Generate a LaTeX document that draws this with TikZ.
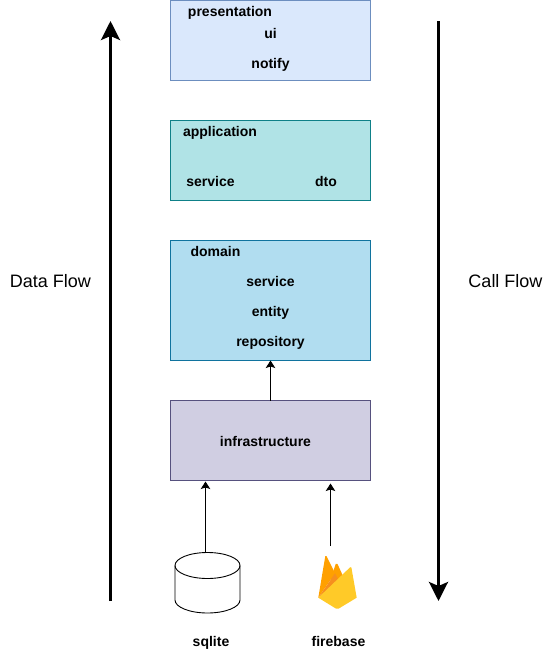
\documentclass[tikz,border=0pt]{standalone}
\usepackage{fontspec}
\setmainfont{Liberation Sans}
\usetikzlibrary{arrows.meta}

\newcommand{\boxWidth}{200pt}
\definecolor{presFill}{HTML}{DAE8FC}
\definecolor{presLine}{HTML}{6C8EBF}
\definecolor{appFill}{HTML}{B0E3E6}
\definecolor{appLine}{HTML}{0E8088}
\definecolor{domFill}{HTML}{B1DDF0}
\definecolor{domLine}{HTML}{10739E}
\definecolor{infraFill}{HTML}{D0CEE2}
\definecolor{infraLine}{HTML}{56517E}
\definecolor{fireDark}{HTML}{FFA000}
\definecolor{fireMid}{HTML}{F68F1E}
\definecolor{fireLight}{HTML}{FFCA28}

\tikzset{
  layer/.style={draw, minimum width=\boxWidth, outer sep=0pt, line width=0.9pt},
  word/.style={font=\bfseries\fontsize{14}{16}\selectfont, inner sep=0pt, anchor=base},
  flowword/.style={font=\fontsize{18}{21}\selectfont, inner sep=0pt, anchor=base},
  thinarrow/.style={-{Stealth[length=7.5pt,width=9.5pt,inset=1.5pt]}, line width=1pt},
  flowarrow/.style={-{Stealth[length=19pt,width=19pt,inset=4pt]}, line width=3pt}
}

\begin{document}
\begin{tikzpicture}[x=1pt, y=-1pt]
  \useasboundingbox (0,0) rectangle (551,651);

  % layers
  \node[layer, fill=presFill, draw=presLine, minimum height=80pt] (presentation) at (270.5,40.5) {};
  \node[layer, fill=appFill, draw=appLine, minimum height=80pt] (application) at (270.5,160.5) {};
  \node[layer, fill=domFill, draw=domLine, minimum height=120pt] (domain) at (270.5,300.5) {};
  \node[layer, fill=infraFill, draw=infraLine, minimum height=80pt] (infrastructure) at (270.5,440.5) {};

  \node[word] (presentationtitle) at (230,16) {presentation};
  \node[word] (ui) at (270.5,38) {ui};
  \node[word] (notify) at (270.5,68) {notify};

  \node[word] (applicationtitle) at (220,136) {application};
  \node[word] (appservice) at (210.5,186) {service};
  \node[word] (dto) at (326,186) {dto};

  \node[word] (domaintitle) at (215.5,256) {domain};
  \node[word] (domservice) at (270.5,286) {service};
  \node[word] (entity) at (270.5,316) {entity};
  \node[word] (repository) at (270.5,346) {repository};

  \node[word] (infratitle) at (265.5,446) {infrastructure};

  % database
  \draw[line width=0.9pt] (175,565.5) -- (175,600) arc[start angle=180, end angle=0, x radius=32.5, y radius=13] -- (240,565.5);
  \draw[line width=0.9pt] (207.5,565.5) ellipse[x radius=32.5, y radius=13];
  \node[word] (sqlite) at (211,646) {sqlite};

  % firebase logo
  \fill[fireDark] (318.3,597.7) -- (325.3,556) .. controls (325.8,555.5) and (326.3,555.7) .. (326.6,556.2) -- (335,573.3) -- cycle;
  \fill[fireDark] (331,578) -- (335.8,563.8) .. controls (336.2,563) and (337,563) .. (337.4,563.8) -- (343,576) -- (330,592) -- cycle;
  \fill[fireMid] (318.3,597.7) -- (335,573.3) -- (338.5,580) -- cycle;
  \fill[fireLight] (318.3,597.7) -- (350.2,567.2) .. controls (350.8,566.6) and (351.3,566.8) .. (351.4,567.5) -- (356.7,597.7) -- (338.5,608.7) .. controls (337.7,609.2) and (336.9,609.2) .. (336.1,608.7) -- cycle;
  \node[word] (firebase) at (338.5,646) {firebase};

  \coordinate (sqlitetop) at (205.5,552.5);
  \coordinate (firebasetop) at (330.5,546);
  \coordinate (dataflowstart) at (110.5,601);
  \coordinate (dataflowend) at (110.5,21);
  \coordinate (callflowstart) at (438.5,21);
  \coordinate (callflowend) at (438.5,601);

  % connectors
  \draw[thinarrow] (infrastructure.north) -- (domain.south);
  \draw[thinarrow] (sqlitetop) -- ([yshift=-1pt]sqlitetop |- infrastructure.south);
  \draw[thinarrow] (firebasetop) -- ([yshift=-3pt]firebasetop |- infrastructure.south);

  % flow arrows
  \draw[flowarrow] (dataflowstart) -- (dataflowend);
  \draw[flowarrow] (callflowstart) -- (callflowend);
  \node[flowword] (dataflow) at (50.5,287) {Data Flow};
  \node[flowword] (callflow) at (505.5,287) {Call Flow};
\end{tikzpicture}
\end{document}
